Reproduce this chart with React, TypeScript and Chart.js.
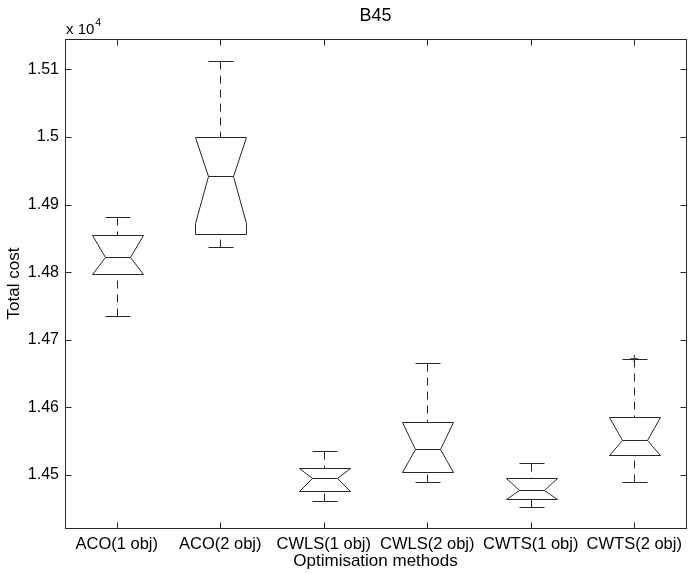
import React, { useEffect, useRef } from 'react';
import { Chart, registerables } from 'chart.js';

Chart.register(...registerables);

// ---- data (total cost) ----
const categories = ['ACO(1 obj)', 'ACO(2 obj)', 'CWLS(1 obj)', 'CWLS(2 obj)', 'CWTS(1 obj)', 'CWTS(2 obj)'];
const whiskerLow = [14735, 14838, 14461, 14489, 14453, 14490];
const quartile1 = [14797, 14857, 14477, 14505, 14464, 14529];
const medians = [14822, 14943, 14495, 14538, 14478, 14552];
const quartile3 = [14855, 15000, 14511, 14579, 14495, 14586];
const whiskerHigh = [14881, 15112, 14536, 14666, 14518, 14671];
const notchLow = [14797, 14873, 14477, 14505, 14464, 14529];
const notchHigh = [14855, 15000, 14511, 14579, 14495, 14586];
const outliers = [null, null, null, null, null, 14672];

const yTickValues = [14500, 14600, 14700, 14800, 14900, 15000, 15100];
const yTickLabels = ['1.45', '1.46', '1.47', '1.48', '1.49', '1.5', '1.51'];
const yMin = 14421.6;
const yMax = 15145;

const titleText = 'B45';
const xTitle = 'Optimisation methods';
const yTitle = 'Total cost';

const LINE = '#262626';
const FONT = "'Liberation Sans', Arial, Helvetica, sans-serif";

const px = (v: number) => Math.round(v) + 0.5;

const boxPlugin = {
  id: 'notchedBoxes',
  afterDatasetsDraw(chart: any) {
    const { ctx, scales } = chart;
    const x = scales.x;
    const y = scales.y;
    const unit = x.getPixelForValue(1) - x.getPixelForValue(0);
    const boxHalf = unit * 0.25;
    const notchHalf = unit * 0.125;
    const capHalf = unit * 0.125;
    const py = (v: number) => px(y.getPixelForValue(v));
    const seg = (x1: number, y1: number, x2: number, y2: number) => {
      ctx.beginPath();
      ctx.moveTo(x1, y1);
      ctx.lineTo(x2, y2);
      ctx.stroke();
    };
    ctx.save();
    ctx.strokeStyle = LINE;
    ctx.lineWidth = 1;
    categories.forEach((_, i) => {
      const cx = px(x.getPixelForValue(i));
      // whiskers (dashed)
      ctx.setLineDash([8, 6]);
      seg(cx, py(whiskerHigh[i]), cx, py(quartile3[i]));
      seg(cx, py(whiskerLow[i]), cx, py(quartile1[i]));
      ctx.setLineDash([]);
      // caps
      seg(px(cx - capHalf), py(whiskerHigh[i]), px(cx + capHalf), py(whiskerHigh[i]));
      seg(px(cx - capHalf), py(whiskerLow[i]), px(cx + capHalf), py(whiskerLow[i]));
      // notched box
      const l = px(cx - boxHalf);
      const r = px(cx + boxHalf);
      const nl = px(cx - notchHalf);
      const nr = px(cx + notchHalf);
      ctx.beginPath();
      ctx.moveTo(l, py(quartile3[i]));
      ctx.lineTo(l, py(notchHigh[i]));
      ctx.lineTo(nl, py(medians[i]));
      ctx.lineTo(l, py(notchLow[i]));
      ctx.lineTo(l, py(quartile1[i]));
      ctx.lineTo(r, py(quartile1[i]));
      ctx.lineTo(r, py(notchLow[i]));
      ctx.lineTo(nr, py(medians[i]));
      ctx.lineTo(r, py(notchHigh[i]));
      ctx.lineTo(r, py(quartile3[i]));
      ctx.closePath();
      ctx.stroke();
      // median
      seg(nl, py(medians[i]), nr, py(medians[i]));
    });
    ctx.restore();
  },
  afterDraw(chart: any) {
    const { ctx, chartArea, scales } = chart;
    const x = scales.x;
    const y = scales.y;
    const L = px(chartArea.left), R = px(chartArea.right), T = px(chartArea.top), B = px(chartArea.bottom);
    ctx.save();
    ctx.strokeStyle = LINE;
    ctx.lineWidth = 1;
    ctx.strokeRect(L, T, R - L, B - T);
    const tl = 6;
    ctx.beginPath();
    y.ticks.forEach((t: any) => {
      const yy = px(y.getPixelForValue(t.value));
      ctx.moveTo(L, yy); ctx.lineTo(L + tl, yy);
      ctx.moveTo(R, yy); ctx.lineTo(R - tl, yy);
    });
    categories.forEach((_, i) => {
      const xx = px(x.getPixelForValue(i));
      ctx.moveTo(xx, B); ctx.lineTo(xx, B - tl);
      ctx.moveTo(xx, T); ctx.lineTo(xx, T + tl);
    });
    ctx.stroke();
    // exponent label
    ctx.fillStyle = '#000';
    ctx.textBaseline = 'alphabetic';
    ctx.textAlign = 'left';
    ctx.font = `15px ${FONT}`;
    const base = 'x 10';
    ctx.fillText(base, chartArea.left + 1, chartArea.top - 5);
    const w = ctx.measureText(base).width;
    ctx.font = `10.5px ${FONT}`;
    ctx.fillText('4', chartArea.left + 1 + w + 1, chartArea.top - 13);
    ctx.restore();
  },
};

export default function App() {
  const ref = useRef<HTMLCanvasElement | null>(null);
  useEffect(() => {
    document.body.style.margin = '0';
    const canvas = ref.current;
    if (!canvas) return;
    const chart = new Chart(canvas, {
      type: 'line',
      data: {
        labels: categories,
        datasets: [
          {
            label: 'outliers',
            data: outliers as any,
            showLine: false,
            pointStyle: 'cross',
            pointRadius: 4,
            pointBorderColor: LINE,
            pointBorderWidth: 1,
            pointBackgroundColor: LINE,
          },
        ],
      },
      options: {
        animation: false,
        responsive: false,
        devicePixelRatio: 1,
        layout: { padding: { left: 0, right: 5, top: 0, bottom: 0 } },
        plugins: {
          legend: { display: false },
          tooltip: { enabled: false },
          title: {
            display: true,
            fullSize: false,
            text: titleText,
            color: '#000',
            font: { family: FONT, size: 18, weight: 'normal' },
            padding: { top: 5.5, bottom: 11.9 },
          },
        },
        scales: {
          x: {
            type: 'category',
            offset: true,
            grid: { display: false, drawTicks: false },
            border: { display: false },
            ticks: {
              color: '#000',
              padding: 7,
              maxRotation: 0,
              autoSkip: false,
              font: { family: FONT, size: 16.5 },
            },
            title: {
              display: true,
              text: xTitle,
              color: '#000',
              font: { family: FONT, size: 17 },
              padding: { top: 0, bottom: 2 },
            },
            afterFit: (s: any) => { s.height = 46; },
          },
          y: {
            type: 'linear',
            min: yMin,
            max: yMax,
            grid: { display: false, drawTicks: false },
            border: { display: false },
            afterBuildTicks: (s: any) => { s.ticks = yTickValues.map((v) => ({ value: v })); },
            ticks: {
              color: '#000',
              padding: 6,
              font: { family: FONT, size: 16 },
              callback: (v: any) => {
                const idx = yTickValues.indexOf(Number(v));
                return idx >= 0 ? yTickLabels[idx] : '';
              },
            },
            title: {
              display: true,
              text: yTitle,
              color: '#000',
              font: { family: FONT, size: 17 },
              padding: { top: 4, bottom: 4 },
            },
            afterFit: (s: any) => { s.width = 65; },
          },
        },
      },
      plugins: [boxPlugin],
    });
    return () => chart.destroy();
  }, []);
  return <canvas ref={ref} width={691} height={574} style={{ display: 'block' }} />;
}
